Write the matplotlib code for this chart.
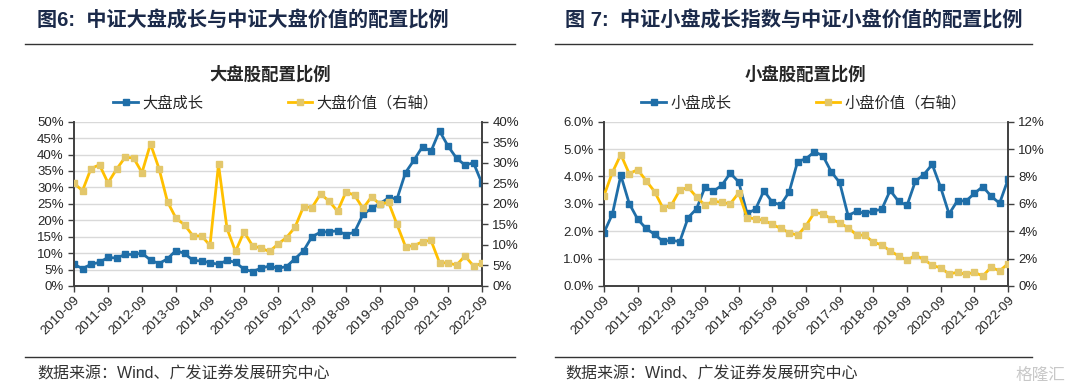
import matplotlib
matplotlib.use('Agg')
import matplotlib.pyplot as plt
from matplotlib.lines import Line2D
from matplotlib.ticker import FuncFormatter

plt.rcParams['font.family'] = ['Liberation Sans', 'Noto Sans CJK SC']

# 季度数据 2010-09 ~ 2022-09
quarters = ['%d-%s' % (y, m) for y in range(2010, 2023) for m in ('03', '06', '09', '12')]
quarters = quarters[2:-1]
tick_labels = ['%d-09' % y for y in range(2010, 2023)]

# 大盘成长(左轴), 大盘价值(右轴)
large_growth = [6.6, 5.3, 6.6, 7.2, 8.7, 8.5, 9.6, 9.6, 10.0, 7.9,
                6.8, 8.3, 10.8, 9.9, 7.8, 7.6, 7.1, 6.6, 7.8, 7.2,
                5.1, 4.4, 5.4, 6.1, 5.4, 5.9, 8.3, 10.7, 15.0, 16.4,
                16.5, 16.8, 15.6, 16.4, 21.8, 23.6, 25.1, 26.8, 26.5, 34.5,
                38.3, 42.4, 41.0, 47.2, 42.6, 38.9, 36.8, 37.5, 31.2]
large_value = [25.0, 23.2, 28.6, 29.5, 25.1, 28.4, 31.3, 31.2, 27.6, 34.6,
               28.6, 20.5, 16.5, 14.9, 12.2, 12.2, 9.9, 29.6, 14.0, 8.4,
               13.2, 9.8, 9.2, 8.4, 10.2, 11.8, 14.3, 19.3, 19.1, 22.4,
               20.7, 18.2, 22.9, 22.1, 18.9, 21.7, 19.9, 20.4, 15.0, 9.6,
               9.8, 10.8, 11.1, 5.7, 5.6, 5.1, 7.3, 4.9, 5.5]

# 小盘成长(左轴), 小盘价值(右轴)
small_growth = [1.95, 2.63, 4.04, 3.01, 2.44, 2.10, 1.89, 1.63, 1.67, 1.62,
                2.50, 2.82, 3.61, 3.46, 3.68, 4.12, 3.80, 2.65, 2.80, 3.48,
                3.06, 2.96, 3.43, 4.54, 4.65, 4.90, 4.76, 4.17, 3.78, 2.57,
                2.73, 2.65, 2.74, 2.80, 3.49, 3.09, 2.94, 3.83, 4.07, 4.44,
                3.60, 2.63, 3.12, 3.10, 3.38, 3.63, 3.28, 3.02, 3.89]
small_value = [6.6, 8.3, 9.6, 8.2, 8.5, 7.7, 6.9, 5.7, 5.9, 7.0,
               7.2, 6.5, 5.9, 6.2, 6.1, 6.0, 6.8, 5.0, 4.9, 4.8,
               4.5, 4.2, 3.9, 3.7, 4.4, 5.37, 5.27, 4.9, 4.59, 4.27,
               3.73, 3.7, 3.2, 3.0, 2.56, 2.2, 1.88, 2.24, 1.95, 1.51,
               1.32, 0.88, 1.0, 0.85, 1.0, 0.73, 1.37, 1.1, 1.63]

BLUE = '#1f6ea8'
YELLOW = '#ffc000'
YMARK = '#e3c76b'
AXC = '#404040'
TXT = '#262626'

W, H = 1080, 390
fig = plt.figure(figsize=(W / 100, H / 100), dpi=100)


def px(x, y):
    return x / W, 1 - y / H


def panel(x0, x1, header, title, names, left, right, lmax, lstep, rmax, rstep, lfmt, rfmt, title_x):
    l, b = px(x0, 286)
    r, t = px(x1, 121.7)
    ax = fig.add_axes([l, b, r - l, t - b])
    ax2 = ax.twinx()
    x = list(range(len(quarters)))

    ax.plot(x, left, color=BLUE, lw=2, marker='s', ms=4, mfc=BLUE, mec=BLUE, zorder=3)
    ax2.plot(x, right, color=YELLOW, lw=2, marker='s', ms=4, mfc=YMARK, mec=YMARK, zorder=3)

    ax.set_xlim(0, len(quarters) - 1)
    ax.set_xticks(x[::4])
    ax.set_xticklabels(tick_labels, rotation=45, ha='right', rotation_mode='anchor',
                       fontsize=9, color=TXT)
    ax.set_ylim(0, lmax)
    ax2.set_ylim(0, rmax)
    ax.set_yticks([i * lstep for i in range(int(round(lmax / lstep)) + 1)])
    ax2.set_yticks([i * rstep for i in range(int(round(rmax / rstep)) + 1)])
    ax.yaxis.set_major_formatter(FuncFormatter(lambda v, p: lfmt % v))
    ax2.yaxis.set_major_formatter(FuncFormatter(lambda v, p: rfmt % v))
    ax.grid(axis='y', color='#d9d9d9', lw=1)
    ax.set_axisbelow(True)

    for a in (ax, ax2):
        a.spines['top'].set_visible(False)
        for s in ('left', 'right', 'bottom'):
            a.spines[s].set_color(AXC)
            a.spines[s].set_linewidth(1.2)
        a.tick_params(labelsize=9.5, colors=AXC, labelcolor=TXT, length=4, width=1)
    ax.tick_params(axis='x', pad=2)
    ax2.set_zorder(ax.get_zorder() + 1)
    ax2.patch.set_visible(False)

    handles = [Line2D([], [], color=BLUE, lw=2, marker='s', ms=4, mfc=BLUE, mec=BLUE),
               Line2D([], [], color=YELLOW, lw=2, marker='s', ms=4, mfc=YMARK, mec=YMARK)]
    cx = (x0 + x1) / 2
    fig.legend(handles, names, loc='center', bbox_to_anchor=px(cx - 2, 103), ncol=2,
               frameon=False, fontsize=11, handlelength=1.6, handletextpad=0.3,
               columnspacing=5.5, labelcolor=TXT)

    fig.text(*px(title_x, 75), title, ha='center', va='center', fontsize=12.5,
             fontweight='bold', color=TXT, family=['Noto Sans CJK SC'])

    hx = x0 - 37 if x0 < 300 else x0 - 39
    fig.text(*px(hx, 21), header, ha='left', va='center', fontsize=14.5,
             fontweight='bold', color='#1b2a4a')
    lx0 = x0 - 49
    lx1 = lx0 + 490 if x0 < 300 else lx0 + 477
    fig.add_artist(Line2D([lx0 / W, lx1 / W], [1 - 43.5 / H] * 2, color='#333333', lw=1))
    fig.add_artist(Line2D([lx0 / W, lx1 / W], [1 - 357 / H] * 2, color='#333333', lw=1))
    fig.text(*px(hx, 374), '数据来源：Wind、广发证券发展研究中心', ha='left', va='center',
             fontsize=11.5, color='#333333')


panel(74, 482, '图6:  中证大盘成长与中证大盘价值的配置比例', '大盘股配置比例',
      ['大盘成长', '大盘价值（右轴）'], large_growth, large_value,
      50, 5, 40, 5, '%d%%', '%d%%', 270)
panel(604, 1008, '图 7:  中证小盘成长指数与中证小盘价值的配置比例', '小盘股配置比例',
      ['小盘成长', '小盘价值（右轴）'], small_growth, small_value,
      6, 1, 12, 2, '%.1f%%', '%d%%', 805)

fig.text(*px(1040, 375), '格隆汇', ha='center', va='center', fontsize=12,
         color='#c8c8c8', family=['Noto Sans CJK SC'])

fig.savefig('out.png', dpi=100)
